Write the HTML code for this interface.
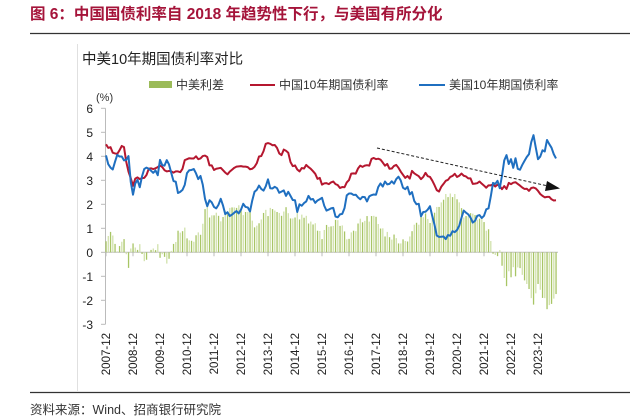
<!DOCTYPE html>
<html><head><meta charset="utf-8"><style>
body{margin:0;background:#fff;}
svg{display:block;font-family:"Liberation Sans","Noto Sans CJK SC",sans-serif;}
</style></head><body>
<svg id="c" width="630" height="419" viewBox="0 0 630 419">
<text x="30" y="19" font-size="15.5" font-weight="bold" fill="#a5143a">图 6：中国国债利率自 2018 年趋势性下行，与美国有所分化</text>
<line x1="30" y1="33.5" x2="630" y2="33.5" stroke="#333" stroke-width="1.3"/>
<line x1="77.5" y1="44" x2="77.5" y2="391" stroke="#e0e0e0" stroke-width="1"/>
<text x="82" y="64" font-size="14.5" fill="#222">中美10年期国债利率对比</text>
<g>
<g><rect x="149" y="81" width="23" height="7" fill="#9bbb59"/><text x="176" y="89" font-size="12" fill="#333">中美利差</text></g>
<g><line x1="250" y1="85" x2="275" y2="85" stroke="#b5172f" stroke-width="2"/><text x="279" y="89" font-size="12" fill="#333">中国10年期国债利率</text></g>
<g><line x1="419" y1="85" x2="445" y2="85" stroke="#1f6fc0" stroke-width="2"/><text x="449" y="89" font-size="12" fill="#333">美国10年期国债利率</text></g>
</g>
<text x="96" y="101" font-size="11" fill="#333">(%)</text>
<g id="axes"></g><g id="bars"></g><g id="lines"></g>
<line x1="377" y1="148" x2="548" y2="186" stroke="#222" stroke-width="1" stroke-dasharray="3,2"/>
<polygon points="560,188.5 547,181 545,191" fill="#111"/>
<line x1="30" y1="392.5" x2="630" y2="392.5" stroke="#333" stroke-width="1.3"/>
<text x="30" y="414" font-size="12.5" fill="#333">资料来源：Wind、招商银行研究院</text>
</svg>
<script>
const yTicks=[6,5,4,3,2,1,0,-1,-2,-3];
const xLabels=["2007-12","2008-12","2009-12","2010-12","2011-12","2012-12","2013-12","2014-12","2015-12","2016-12","2017-12","2018-12","2019-12","2020-12","2021-12","2022-12","2023-12"];
const chinaYield=[4.50,
4.35,4.38,4.15,4.12,4.10,4.25,4.43,4.38,3.77,3.36,3.09,2.77,
3.07,3.12,3.05,3.09,3.10,3.22,3.48,3.50,3.47,3.50,3.55,3.62,
3.55,3.42,3.37,3.39,3.37,3.32,3.37,3.37,3.34,3.48,3.84,3.88,
3.92,3.91,3.91,4.00,3.88,3.91,4.01,4.03,3.97,3.62,3.62,3.43,
3.48,3.50,3.52,3.42,3.32,3.25,3.36,3.44,3.52,3.57,3.58,3.59,
3.57,3.57,3.55,3.46,3.48,3.56,3.71,3.99,4.01,4.21,4.52,4.55,
4.52,4.46,4.47,4.35,4.12,4.05,4.28,4.23,4.15,3.76,3.59,3.62,
3.45,3.37,3.51,3.49,3.64,3.55,3.48,3.38,3.27,3.06,3.10,2.82,
2.87,2.88,2.84,2.91,2.95,2.84,2.80,2.68,2.72,2.71,2.91,3.01,
3.28,3.29,3.28,3.49,3.61,3.56,3.61,3.63,3.61,3.89,3.93,3.88,
3.90,3.86,3.74,3.61,3.68,3.48,3.49,3.60,3.64,3.52,3.36,3.23,
3.10,3.18,3.07,3.39,3.29,3.23,3.17,3.05,3.14,3.31,3.17,3.14,
2.99,2.80,2.59,2.53,2.73,2.85,2.98,3.02,3.14,3.18,3.27,3.14,
3.19,3.28,3.19,3.16,3.08,3.08,2.85,2.86,2.88,2.95,2.86,2.78,
2.69,2.79,2.79,2.83,2.74,2.82,2.76,2.63,2.76,2.64,2.89,2.84,
2.90,2.92,2.85,2.78,2.70,2.64,2.65,2.56,2.68,2.70,2.66,2.56,
2.43,2.35,2.29,2.31,2.31,2.21,2.16,2.17];
const usYield=[4.04,
3.67,3.53,3.45,3.77,4.06,3.99,3.99,3.83,3.85,4.01,2.93,2.40,
2.87,3.02,2.71,3.16,3.47,3.53,3.48,3.40,3.31,3.41,3.21,3.85,
3.63,3.61,3.84,3.66,3.31,2.97,2.94,2.47,2.52,2.60,2.81,3.30,
3.42,3.43,3.47,3.29,3.05,3.18,2.82,2.23,1.92,2.17,2.08,1.89,
1.83,1.98,2.23,1.95,1.59,1.67,1.51,1.57,1.65,1.72,1.62,1.78,
2.02,1.89,1.87,1.70,2.16,2.52,2.60,2.78,2.64,2.57,2.75,3.04,
2.67,2.66,2.73,2.67,2.48,2.53,2.58,2.35,2.52,2.35,2.18,2.17,
1.68,2.00,1.94,2.05,2.12,2.35,2.20,2.22,2.06,2.16,2.21,2.27,
1.94,1.74,1.78,1.83,1.85,1.49,1.46,1.58,1.60,1.84,2.37,2.45,
2.45,2.39,2.40,2.29,2.21,2.31,2.30,2.12,2.33,2.38,2.41,2.40,
2.72,2.87,2.74,2.95,2.83,2.85,2.96,2.86,3.05,3.15,2.99,2.69,
2.63,2.73,2.41,2.51,2.14,2.00,2.02,1.50,1.68,1.69,1.78,1.92,
1.51,1.15,0.70,0.64,0.65,0.66,0.55,0.72,0.69,0.88,0.84,0.93,
1.11,1.44,1.74,1.65,1.58,1.45,1.24,1.31,1.52,1.55,1.43,1.52,
1.79,1.83,2.32,2.89,2.85,2.98,2.67,3.19,3.83,4.05,3.68,3.88,
3.52,3.92,3.48,3.44,3.64,3.81,3.97,4.09,4.59,4.88,4.37,3.88,
3.99,4.25,4.20,4.68,4.51,4.36,4.09,3.91];
const NS="http://www.w3.org/2000/svg";
const x0=106,mw=2.25,yZero=252.3,ppu=24;
function X(i){return x0+i*mw;}
function Y(v){return yZero-v*ppu;}
function mk(t,a,p){const e=document.createElementNS(NS,t);for(const k in a)e.setAttribute(k,a[k]);p.appendChild(e);return e;}
const axes=document.getElementById('axes'),bars=document.getElementById('bars'),lines=document.getElementById('lines');
const yl=mk('line',{x1:105.5,y1:Y(6),x2:105.5,y2:Y(-3),stroke:'#bbb','stroke-width':1},axes);


yTicks.forEach(v=>{
 const t=mk('line',{x1:101,y1:Y(v),x2:105.5,y2:Y(v),stroke:'#bbb'},axes);
 
 
 const l=mk('text',{x:93,y:Y(v)+4.5,'font-size':12,'text-anchor':'end',fill:'#222'},axes);
 l.textContent=v;
 
 
});
const n=chinaYield.length;
const xl=mk('line',{x1:105.5,y1:yZero,x2:X(n-1)+2,y2:yZero,stroke:'#bbb'},axes);


xLabels.forEach((s,k)=>{
 const xx=X(k*12);
 const t=mk('line',{x1:xx,y1:yZero,x2:xx,y2:yZero+4,stroke:'#bbb'},axes);
 
 
 const l=mk('text',{x:0,y:0,'font-size':11.5,'text-anchor':'end',fill:'#222',transform:`translate(${xx+4},333) rotate(-90)`},axes);
 l.textContent=s;
 
 
});
for(let i=0;i<n;i++){
 const d=chinaYield[i]-usYield[i];
 const b=mk('rect',{x:X(i)-0.6,y:Math.min(Y(d),yZero),width:1.3,height:Math.abs(Y(d)-yZero),fill:i%2?'#d2e2ac':'#a8c565'},bars);
 
 
}
function path(arr,col,name){
 const d=arr.map((v,i)=>(i?'L':'M')+X(i).toFixed(2)+','+Y(v).toFixed(2)).join('');
 const p=mk('path',{d:d,fill:'none',stroke:col,'stroke-width':2,'stroke-linejoin':'round'},lines);
 
 
}
path(chinaYield,'#b5172f','china-10y-line');
path(usYield,'#1f6fc0','us-10y-line');
</script>
</body></html>
